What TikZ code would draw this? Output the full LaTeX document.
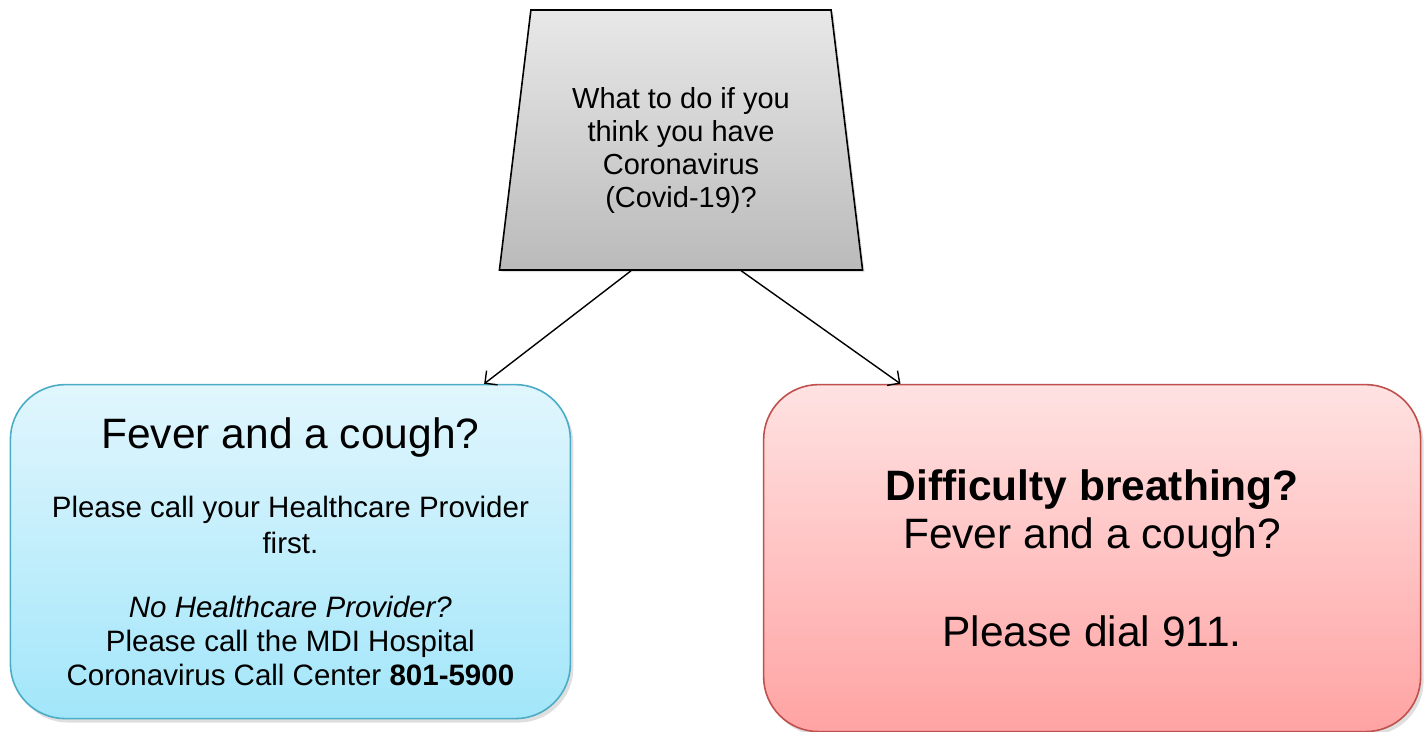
\documentclass[tikz,border=0pt]{standalone}
\usepackage{fontspec}
\setmainfont{Liberation Sans}
\usetikzlibrary{shapes,arrows.meta,positioning,calc,shadows}

\definecolor{bluefilltop}{HTML}{E1F6FD}
\definecolor{bluefillbot}{HTML}{A2E6FA}
\definecolor{blueline}{HTML}{4BACC6}
\definecolor{redfilltop}{HTML}{FFE2E2}
\definecolor{redfillbot}{HTML}{FFA3A3}
\definecolor{redline}{HTML}{C0504D}

\begin{document}
\begin{tikzpicture}[x=1pt,y=1pt]

  \tikzset{main node/.style={trapezium, draw, line width=1.6pt,
  		trapezium left angle=81.3, trapezium right angle=81.3,
  		trapezium stretches=true, minimum width=364pt, minimum height=260pt,
  		top color=black!9, bottom color=black!27, align=center,
  		drop shadow={shadow xshift=2pt, shadow yshift=-2pt, opacity=0.25},
  		font=\fontsize{29}{33}\selectfont}, }
  \tikzset{advice node/.style={rectangle, draw, line width=1.6pt,
  		rounded corners=55pt, align=center,
  		drop shadow={shadow xshift=3pt, shadow yshift=-4pt, opacity=0.25}}, }
  \tikzset{linea/.style={-{Straight Barb[length=9pt,width=18pt]}, line width=1.4pt}, }
\useasboundingbox (0,0) rectangle (1424,-731);
\node[main node] (q) at (681,-140) {\rule{0pt}{42pt}What to do if you\\think you have\\Coronavirus\\(Covid-19)?};
\node[advice node, draw=blueline, top color=bluefilltop, bottom color=bluefillbot,
      minimum width=560pt, minimum height=334pt, font=\fontsize{29.5}{34}\selectfont]
      (fever) [below left=113pt and -21pt of q]
      {{\fontsize{42.5}{48}\selectfont Fever and a cough?}\\[35pt]
       Please call your Healthcare Provider\\[2pt]first.\\[30pt]
       \textit{No Healthcare Provider?}\\Please call the MDI Hospital\\
       Coronavirus Call Center \textbf{801-5900}};
\node[advice node, draw=redline, top color=redfilltop, bottom color=redfillbot,
      minimum width=657pt, minimum height=347pt, font=\fontsize{42.5}{48}\selectfont]
      (breath) [below right=113pt and -49pt of q]
      {\textbf{Difficulty breathing?}\\Fever and a cough?\\[50pt]Please dial 911.};
\path[linea] ($(q.bottom left corner)!0.363!(q.bottom right corner)$) edge ($(fever.north west)!0.845!(fever.north east)$);
\path[linea] ($(q.bottom left corner)!0.665!(q.bottom right corner)$) edge ($(breath.north west)!0.209!(breath.north east)$);
%%
\end{tikzpicture}
\end{document}
